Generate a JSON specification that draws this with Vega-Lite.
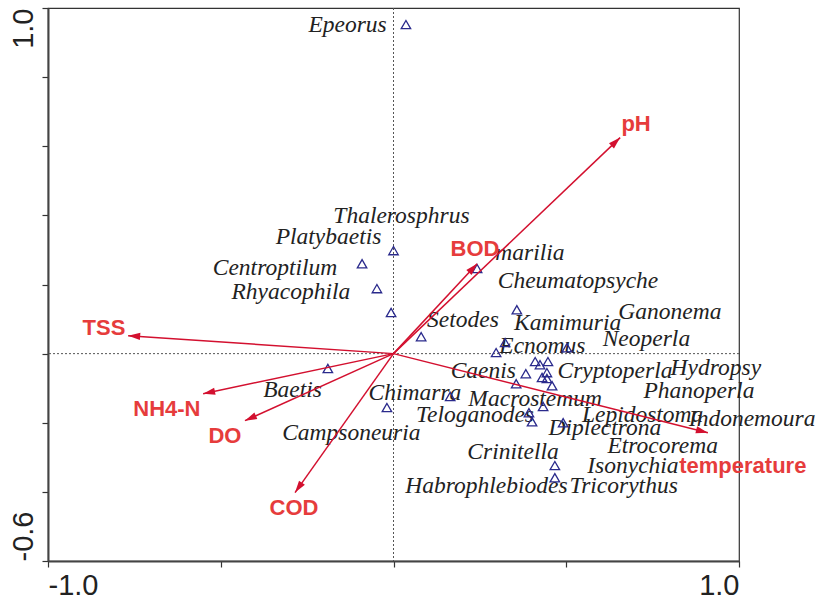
{
  "$schema": "https://vega.github.io/schema/vega-lite/v6.json",
  "width": 691,
  "height": 553,
  "autosize": {"type": "none"},
  "padding": {"left": 48, "top": 8, "right": 80, "bottom": 41},
  "background": "white",
  "config": {
    "view": {"stroke": "#333", "strokeWidth": 1.2},
    "axis": {"grid": false, "title": null, "domainColor": "#444", "domainWidth": 2, "tickColor": "#333", "tickWidth": 1.2, "tickSize": 6, "labelFont": "Liberation Sans", "labelFontSize": 29, "labelColor": "#222"}
  },
  "datasets": {
    "env": [
      {"name": "pH", "x": 0.656, "y": 0.625, "lx": 0.702, "ly": 0.663},
      {"name": "BOD", "x": 0.242, "y": 0.26, "lx": 0.236, "ly": 0.304},
      {"name": "TSS", "x": -0.768, "y": 0.052, "lx": -0.838, "ly": 0.075},
      {"name": "NH4-N", "x": -0.551, "y": -0.116, "lx": -0.656, "ly": -0.159},
      {"name": "DO", "x": -0.43, "y": -0.194, "lx": -0.488, "ly": -0.237},
      {"name": "COD", "x": -0.285, "y": -0.402, "lx": -0.288, "ly": -0.446},
      {"name": "temperature", "x": 0.91, "y": -0.229, "lx": 1.011, "ly": -0.324}
    ],
    "points": [
      {"x": 0.036, "y": 0.952}, {"x": 0.0, "y": 0.298}, {"x": -0.091, "y": 0.26},
      {"x": -0.048, "y": 0.188}, {"x": -0.007, "y": 0.119}, {"x": 0.08, "y": 0.049},
      {"x": 0.242, "y": 0.246}, {"x": 0.357, "y": 0.127}, {"x": 0.323, "y": 0.032},
      {"x": 0.297, "y": 0.003}, {"x": 0.502, "y": 0.017}, {"x": 0.41, "y": -0.023},
      {"x": 0.424, "y": -0.032}, {"x": 0.447, "y": -0.023}, {"x": 0.444, "y": -0.055},
      {"x": 0.43, "y": -0.069}, {"x": 0.444, "y": -0.072}, {"x": 0.459, "y": -0.093},
      {"x": 0.383, "y": -0.058}, {"x": 0.355, "y": -0.087}, {"x": 0.164, "y": -0.124},
      {"x": 0.433, "y": -0.153}, {"x": 0.392, "y": -0.171}, {"x": 0.401, "y": -0.197},
      {"x": 0.491, "y": -0.2}, {"x": 0.467, "y": -0.324}, {"x": 0.467, "y": -0.359},
      {"x": -0.19, "y": -0.043}, {"x": -0.019, "y": -0.156}
    ],
    "labels": [
      {"name": "Epeorus", "x": -0.133, "y": 0.952},
      {"name": "Thalerosphrus", "x": 0.023, "y": 0.397},
      {"name": "Platybaetis", "x": -0.188, "y": 0.336},
      {"name": "Centroptilum", "x": -0.343, "y": 0.249},
      {"name": "Rhyacophila", "x": -0.297, "y": 0.177},
      {"name": "marilia", "x": 0.395, "y": 0.292},
      {"name": "Cheumatopsyche", "x": 0.534, "y": 0.211},
      {"name": "Setodes", "x": 0.201, "y": 0.098},
      {"name": "Kamimuria", "x": 0.504, "y": 0.09},
      {"name": "Ganonema", "x": 0.8, "y": 0.119},
      {"name": "Neoperla", "x": 0.732, "y": 0.041},
      {"name": "Ecnomus", "x": 0.431, "y": 0.023},
      {"name": "Caenis", "x": 0.26, "y": -0.049},
      {"name": "Cryptoperla", "x": 0.641, "y": -0.049},
      {"name": "Hydropsy", "x": 0.933, "y": -0.041},
      {"name": "Phanoperla", "x": 0.884, "y": -0.107},
      {"name": "Chimarra", "x": 0.062, "y": -0.113},
      {"name": "Macrostemum", "x": 0.41, "y": -0.13},
      {"name": "Teloganodes", "x": 0.236, "y": -0.179},
      {"name": "Lepidostoma", "x": 0.721, "y": -0.177},
      {"name": "Diplectrona", "x": 0.612, "y": -0.214},
      {"name": "Indonemoura", "x": 1.038, "y": -0.188},
      {"name": "Etrocorema", "x": 0.779, "y": -0.266},
      {"name": "Crinitella", "x": 0.346, "y": -0.284},
      {"name": "Isonychia", "x": 0.693, "y": -0.324},
      {"name": "Habrophlebiodes", "x": 0.269, "y": -0.382},
      {"name": "Tricorythus", "x": 0.666, "y": -0.382},
      {"name": "Baetis", "x": -0.292, "y": -0.104},
      {"name": "Campsoneuria", "x": -0.122, "y": -0.229}
    ]
  },
  "layer": [
    {
      "data": {"values": [{"v": 0}]},
      "mark": {"type": "rule", "color": "#555", "strokeWidth": 1, "strokeDash": [2, 2]},
      "encoding": {
        "x": {"field": "v", "type": "quantitative", "scale": {"domain": [-1, 1], "nice": false, "zero": false},
          "axis": {"values": [-1, -0.5, 0, 0.5, 1], "labelExpr": "datum.value <= -0.99 ? '-1.0' : datum.value >= 0.99 ? '1.0' : ''", "labelFlush": true, "labelPadding": 4}}
      }
    },
    {
      "data": {"values": [{"v": 0}]},
      "mark": {"type": "rule", "color": "#555", "strokeWidth": 1, "strokeDash": [2, 2]},
      "encoding": {
        "y": {"field": "v", "type": "quantitative", "scale": {"domain": [-0.6, 1], "nice": false, "zero": false},
          "axis": {"values": [-0.6, -0.4, -0.2, 0, 0.2, 0.4, 0.6, 0.8, 1], "labelExpr": "datum.value >= 0.99 ? '1.0' : datum.value <= -0.59 ? '-0.6' : ''", "labelAngle": 270, "labelAlign": {"condition": {"test": "datum.value > 0", "value": "right"}, "value": "left"}, "labelBaseline": "alphabetic", "labelPadding": 10}}
      }
    },
    {
      "data": {"name": "labels"},
      "mark": {"type": "text", "font": "Liberation Serif", "fontStyle": "italic", "fontSize": 23.5, "color": "#222", "align": "center", "baseline": "middle"},
      "encoding": {
        "x": {"field": "x", "type": "quantitative"},
        "y": {"field": "y", "type": "quantitative"},
        "text": {"field": "name", "type": "nominal"}
      }
    },
    {
      "data": {"name": "points"},
      "mark": {"type": "point", "shape": "triangle-up", "filled": false, "size": 90, "stroke": "#2a2a8c", "strokeWidth": 1.3, "opacity": 1},
      "encoding": {
        "x": {"field": "x", "type": "quantitative"},
        "y": {"field": "y", "type": "quantitative"}
      }
    },
    {
      "data": {"name": "env"},
      "mark": {"type": "rule", "color": "#d3102f", "strokeWidth": 1.5},
      "encoding": {
        "x": {"field": "x", "type": "quantitative"},
        "y": {"field": "y", "type": "quantitative"},
        "x2": {"datum": 0},
        "y2": {"datum": 0}
      }
    },
    {
      "data": {"name": "env"},
      "transform": [{"calculate": "atan2(datum.x, datum.y) * 180 / PI", "as": "ang"}],
      "mark": {"type": "point", "shape": "M0,0L-0.3,1L0.3,1Z", "filled": true, "size": 576, "color": "#d3102f", "opacity": 1},
      "encoding": {
        "x": {"field": "x", "type": "quantitative"},
        "y": {"field": "y", "type": "quantitative"},
        "angle": {"field": "ang", "type": "quantitative", "scale": null}
      }
    },
    {
      "data": {"name": "env"},
      "mark": {"type": "text", "font": "Liberation Sans", "fontWeight": "bold", "fontSize": 22, "color": "#e63c3c", "align": "center", "baseline": "middle"},
      "encoding": {
        "x": {"field": "lx", "type": "quantitative"},
        "y": {"field": "ly", "type": "quantitative"},
        "text": {"field": "name", "type": "nominal"}
      }
    }
  ]
}
